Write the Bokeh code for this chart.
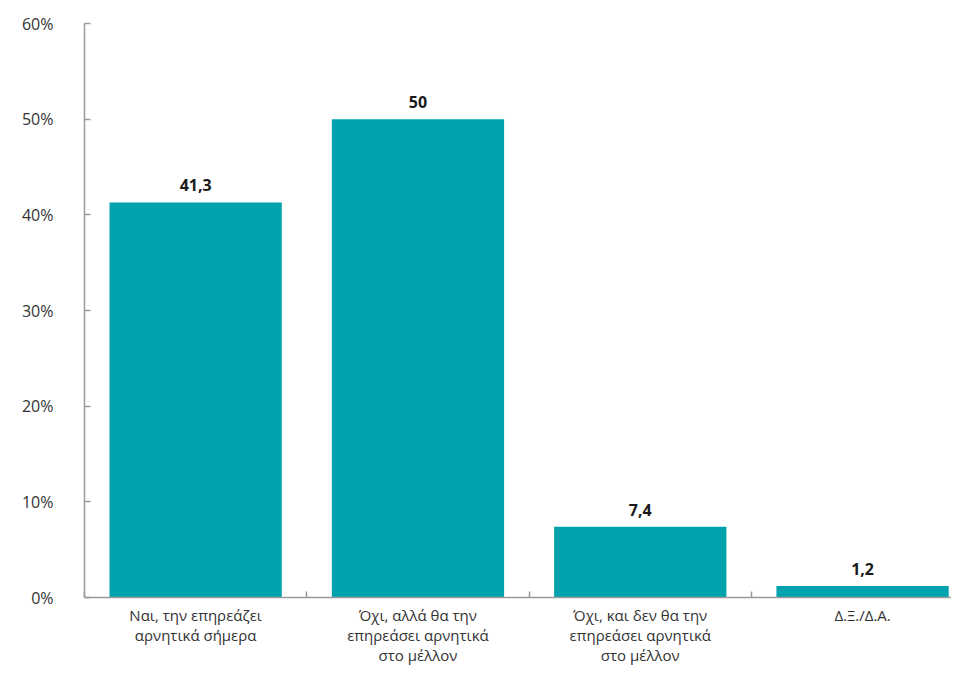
from bokeh.plotting import figure
from bokeh.models import FixedTicker, ColumnDataSource, Range1d
from bokeh.core.properties import value
from bokeh.embed import file_html
from bokeh.resources import INLINE

categories = ["Ναι, την επηρεάζει\nαρνητικά σήμερα",
              "Όχι, αλλά θα την\nεπηρεάσει αρνητικά\nστο μέλλον",
              "Όχι, και δεν θα την\nεπηρεάσει αρνητικά\nστο μέλλον",
              "Δ.Ξ./Δ.Α."]
values = [41.3, 50, 7.4, 1.2]
y_ticks = [0, 10, 20, 30, 40, 50, 60]

xs = list(range(len(categories)))
labels = [("%g" % v).replace(".", ",") for v in values]
src = ColumnDataSource(dict(x=xs, top=values, lab=labels))

FONT = "Open Sans"
TXT = "#333333"

p = figure(width=951, height=667, output_backend="svg", toolbar_location=None,
           x_range=Range1d(-0.5, 3.40), y_range=Range1d(0, 60))
p.min_border_left = 84
p.min_border_right = 0
p.min_border_top = 23
p.min_border_bottom = 69
p.outline_line_color = None
p.xgrid.visible = False
p.ygrid.visible = False

p.vbar(x="x", top="top", width=0.775, bottom=0, source=src,
       fill_color="#00A3AD", line_color=None)
p.text(x="x", y="top", text="lab", source=src, text_align="center",
       text_baseline="bottom", y_offset=-11, text_font=value(FONT),
       text_font_style="bold", text_font_size="16px", text_color="#1a1a1a")

ya = p.yaxis[0]
ya.ticker = FixedTicker(ticks=y_ticks, minor_ticks=[])
ya.major_label_overrides = {t: f"{t}%" for t in y_ticks}
ya.major_tick_in = 6
ya.major_tick_out = 0
ya.minor_tick_line_color = None
ya.major_label_standoff = 31
ya.axis_line_color = "#9a9a9a"
ya.axis_line_width = 1.5
ya.major_tick_line_color = "#9a9a9a"
ya.major_tick_line_width = 1.5
ya.major_label_text_font = FONT
ya.major_label_text_font_size = "16px"
ya.major_label_text_color = TXT

xa = p.xaxis[0]
xa.ticker = FixedTicker(ticks=xs, minor_ticks=[-0.5, 0.5, 1.5, 2.5])
xa.major_label_overrides = {i: c for i, c in enumerate(categories)}
xa.major_tick_line_color = None
xa.major_tick_in = 0
xa.major_tick_out = 0
xa.minor_tick_in = 6
xa.minor_tick_out = 0
xa.minor_tick_line_color = "#9a9a9a"
xa.minor_tick_line_width = 1.5
xa.axis_line_color = "#9a9a9a"
xa.axis_line_width = 1.5
xa.major_label_standoff = 7
xa.major_label_text_font = FONT
xa.major_label_text_font_size = "15px"
xa.major_label_text_color = TXT
xa.major_label_text_line_height = 1.0

open("out.html", "w").write(file_html(p, INLINE))
